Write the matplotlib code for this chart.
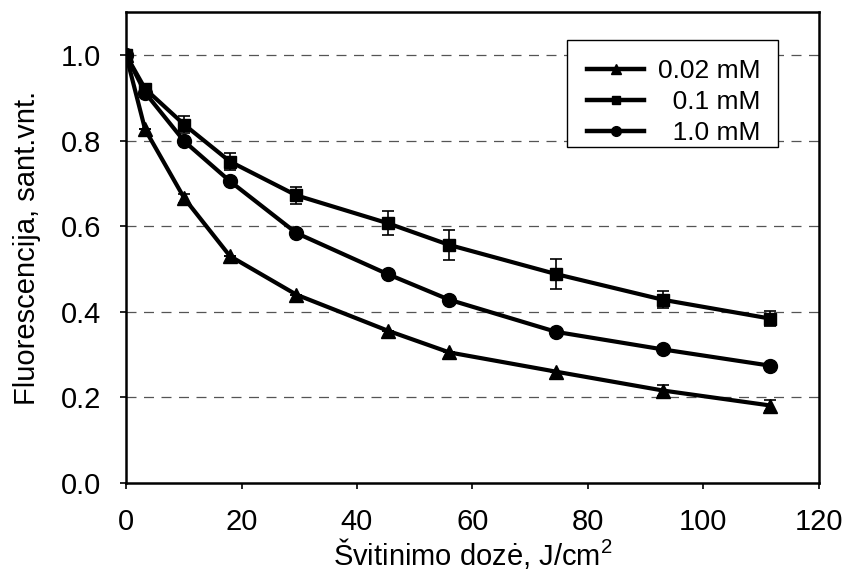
import matplotlib
matplotlib.use("Agg")
import matplotlib.pyplot as plt
from matplotlib.lines import Line2D
from matplotlib.patches import Rectangle

plt.rcParams['font.family'] = ['Liberation Sans', 'DejaVu Sans']
plt.rcParams['mathtext.fontset'] = 'custom'
plt.rcParams['mathtext.rm'] = 'Liberation Sans'
plt.rcParams['mathtext.it'] = 'Liberation Sans:italic'
plt.rcParams['mathtext.bf'] = 'Liberation Sans:bold'

dose = [0, 3.3, 10.1, 18, 29.5, 45.3, 56, 74.5, 93, 111.6]
f_002 = [1.0, 0.826, 0.665, 0.53, 0.44, 0.356, 0.305, 0.26, 0.216, 0.181]
e_002 = [0, 0, 0.01, 0, 0, 0, 0, 0, 0.013, 0.012]
f_01 = [1.0, 0.921, 0.837, 0.751, 0.672, 0.607, 0.556, 0.488, 0.428, 0.384]
e_01 = [0, 0, 0.02, 0.02, 0.02, 0.028, 0.035, 0.035, 0.02, 0.018]
f_10 = [1.0, 0.912, 0.798, 0.705, 0.584, 0.488, 0.428, 0.353, 0.312, 0.274]
e_10 = [0, 0, 0, 0, 0, 0, 0, 0, 0, 0]
labels = ['0.02 mM', '\u20070.1 mM', '\u20071.0 mM']
xticks = [0, 20, 40, 60, 80, 100, 120]
yticks = [0.0, 0.2, 0.4, 0.6, 0.8, 1.0]

fig = plt.figure(figsize=(8.47, 5.78), dpi=100)
ax = fig.add_axes([0.1488, 0.1644, 0.818, 0.8146])

series = [(f_002, e_002, '^', 9.5), (f_01, e_01, 's', 9), (f_10, e_10, 'o', 10)]
handles = []
for (vals, errs, mk, ms), lab in zip(series, labels):
    ax.errorbar(dose, vals, yerr=errs, fmt='none', ecolor='black',
                elinewidth=1.2, capsize=4, capthick=1.2, zorder=2)
    ax.plot(dose, vals, color='black', lw=3, marker=mk, ms=ms, zorder=3)
    handles.append(Line2D([], [], color='black', lw=3.2, marker=mk, ms=ms * 0.7, label=lab))

for y in yticks[1:]:
    ax.axhline(y, color='#555555', lw=0.9, ls=(0, (8, 6)), zorder=0)

ax.set_xlim(0, 120)
ax.set_ylim(0, 1.1)
ax.set_xticks(xticks)
ax.set_yticks(yticks)
ax.set_yticklabels([f'{v:.1f}' for v in yticks])
ax.tick_params(labelsize=21, length=4, width=1.2, direction='out')
ax.tick_params(axis='x', pad=14)
ax.tick_params(axis='y', pad=14)
for s in ax.spines.values():
    s.set_linewidth(1.8)
ax.set_xlabel('Švitinimo dozė, J/cm$^2$', fontsize=21, labelpad=0)
ax.set_ylabel('Fluorescencija, sant.vnt.', fontsize=21, labelpad=14)

# legend frame
ax.add_patch(Rectangle((0.636, 0.713), 0.305, 0.2276, transform=ax.transAxes,
                       facecolor='white', edgecolor='black', lw=1.0, zorder=4))
leg = ax.legend(handles=handles, loc='upper left', bbox_to_anchor=(0.666, 0.900),
                fontsize=19, frameon=False, handlelength=2.16, borderpad=0.0,
                labelspacing=0.27, handletextpad=0.5, borderaxespad=0.0)
leg.set_zorder(5)

fig.savefig('out.png', dpi=100)
